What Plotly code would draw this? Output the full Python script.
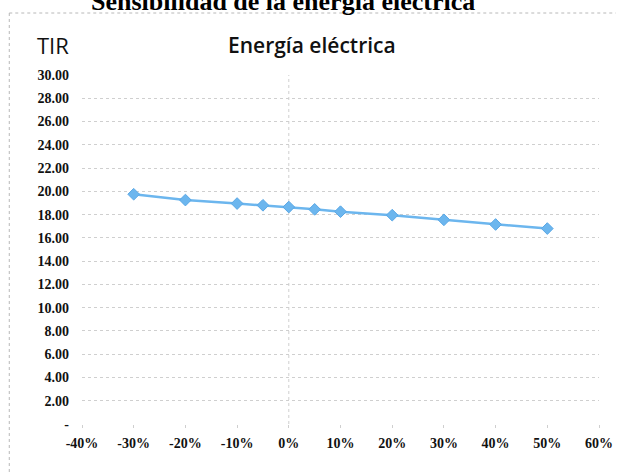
import plotly.graph_objects as go

# Sensitivity of the IRR (TIR) to changes in electricity price
variacion = [-0.30, -0.20, -0.10, -0.05, 0.00, 0.05, 0.10, 0.20, 0.30, 0.40, 0.50]
tir = [19.75, 19.25, 18.95, 18.80, 18.65, 18.45, 18.25, 17.95, 17.55, 17.15, 16.80]

x_ticks = [-0.4, -0.3, -0.2, -0.1, 0.0, 0.1, 0.2, 0.3, 0.4, 0.5, 0.6]
x_labels = ["-40%", "-30%", "-20%", "-10%", "0%", "10%", "20%", "30%", "40%", "50%", "60%"]
y_ticks = [0, 2, 4, 6, 8, 10, 12, 14, 16, 18, 20, 22, 24, 26, 28, 30]
y_labels = ["-"] + [f"{v:.2f}" for v in y_ticks[1:]]

W, H = 625, 473
ML, MR, MT, MB = 82, 17, 75, 49
PW, PH = W - ML - MR, H - MT - MB


def px_to_paper_x(px):
    return (px - ML) / PW


def px_to_paper_y(py):
    return (H - MB - py) / PH


LINE_BLUE = "#6cb6ee"
GRID = "#cfcfcf"
FRAME = "#b8b8b8"
SERIF = "Liberation Serif"
SANS = "Open Sans"

fig = go.Figure()
fig.add_trace(go.Scatter(
    x=variacion, y=tir, mode="lines+markers",
    line=dict(color=LINE_BLUE, width=2.5),
    marker=dict(symbol="diamond", size=9, color=LINE_BLUE,
                line=dict(color="#5aa8e6", width=1)),
    showlegend=False, hoverinfo="skip",
))

fig.update_layout(
    width=W, height=H,
    margin=dict(l=ML, r=MR, t=MT, b=MB),
    paper_bgcolor="white", plot_bgcolor="white",
    xaxis=dict(
        range=[-0.4, 0.6], tickvals=x_ticks, ticktext=x_labels,
        showgrid=False, zeroline=False, showline=False,
        ticks="outside", ticklen=3, tickcolor=GRID, tickwidth=1,
        ticklabelstandoff=3,
        tickfont=dict(family=SERIF, size=14, color="#111", weight="bold"),
    ),
    yaxis=dict(
        range=[0, 30], tickvals=y_ticks, ticktext=y_labels,
        showgrid=True, gridcolor=GRID, griddash="dot", gridwidth=1,
        zeroline=False, showline=False, ticks="",
        ticklabelstandoff=12,
        tickfont=dict(family=SERIF, size=14, color="#111", weight="bold"),
    ),
    shapes=[
        # vertical axis crossing at 0 %
        dict(type="line", xref="x", yref="paper", x0=0, x1=0, y0=0, y1=1,
             line=dict(color=GRID, width=1, dash="dot"), layer="below"),
        # chart frame: top and left edges
        dict(type="line", xref="paper", yref="paper",
             x0=px_to_paper_x(8), x1=px_to_paper_x(W),
             y0=px_to_paper_y(13), y1=px_to_paper_y(13),
             line=dict(color=FRAME, width=1, dash="dot"), layer="below"),
        dict(type="line", xref="paper", yref="paper",
             x0=px_to_paper_x(8), x1=px_to_paper_x(8),
             y0=px_to_paper_y(13), y1=px_to_paper_y(H),
             line=dict(color=FRAME, width=1, dash="dot"), layer="below"),
    ],
    annotations=[
        dict(text="Sensibilidad de la energía eléctrica", xref="paper", yref="paper",
             x=px_to_paper_x(287), y=px_to_paper_y(18), xanchor="center", yanchor="bottom",
             showarrow=False, font=dict(family=SERIF, size=26, color="#000", weight="bold")),
        dict(text="TIR", xref="paper", yref="paper",
             x=px_to_paper_x(34), y=px_to_paper_y(45), xanchor="left", yanchor="middle",
             showarrow=False, font=dict(family=SANS, size=22, color="#111")),
        dict(text="Energía eléctrica", xref="paper", yref="paper",
             x=px_to_paper_x(228), y=px_to_paper_y(45), xanchor="left", yanchor="middle",
             showarrow=False, font=dict(family=SANS, size=21, color="#111", weight=600)),
    ],
)

fig.write_html("out.html")
